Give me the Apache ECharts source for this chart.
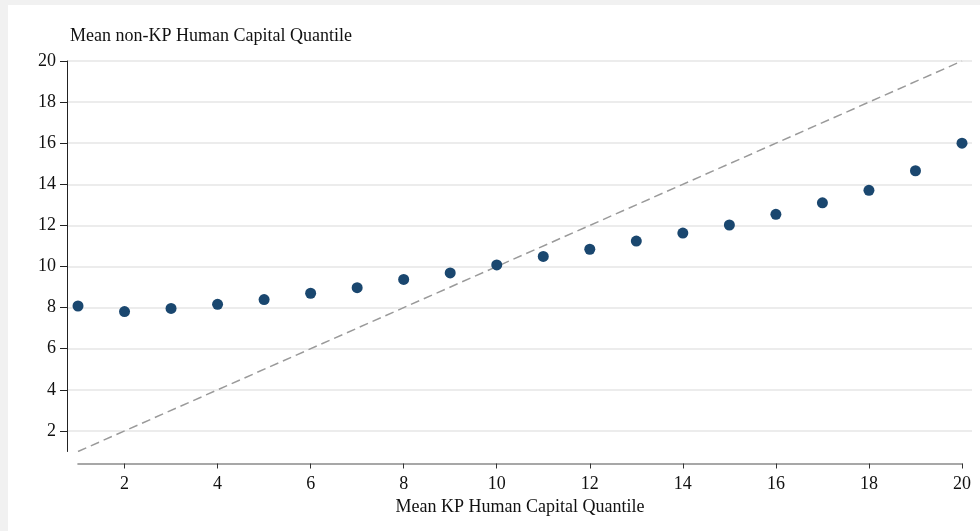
<!DOCTYPE html>
<html>
<head>
<meta charset="utf-8">
<script src="https://cdn.jsdelivr.net/npm/echarts@6/dist/echarts.min.js"></script>
<style>
  html, body { margin: 0; padding: 0; background: #f1f1f1; width: 980px; height: 531px; overflow: hidden; }
  #chart { position: absolute; left: 8px; top: 5px; width: 972px; height: 526px; background: #ffffff; }
</style>
</head>
<body>
<div id="chart"></div>
<script>
// Data
const kpQuantile = [1, 2, 3, 4, 5, 6, 7, 8, 9, 10, 11, 12, 13, 14, 15, 16, 17, 18, 19, 20];
const nonKpQuantile = [8.08, 7.81, 7.96, 8.16, 8.39, 8.70, 8.97, 9.37, 9.69, 10.08, 10.49, 10.84, 11.24, 11.63, 12.02, 12.54, 13.10, 13.71, 14.66, 16.0];
const diagonalX = [1, 20];
const diagonalY = [1, 20];
const yTicks = [2, 4, 6, 8, 10, 12, 14, 16, 18, 20];
const xTicks = [2, 4, 6, 8, 10, 12, 14, 16, 18, 20];
const titleText = 'Mean non-KP Human Capital Quantile';
const xAxisName = 'Mean KP Human Capital Quantile';

const FONT = '"Liberation Serif", "DejaVu Serif", serif';
const chart = echarts.init(document.getElementById('chart'));

const gridTop = 56, gridBottom = 79.5;

chart.setOption({
  animation: false,
  title: {
    text: titleText,
    left: 62,
    top: 22,
    padding: 0,
    textStyle: { fontFamily: FONT, fontSize: 18, fontWeight: 'normal', color: '#111' }
  },
  grid: [
    { left: 70, right: 18, top: gridTop, bottom: gridBottom, containLabel: false },
    { left: 59, right: 8, top: gridTop, bottom: gridBottom, containLabel: false }
  ],
  xAxis: [
    {
      type: 'value', gridIndex: 0, min: 1, max: 20, offset: 12,
      name: xAxisName, nameLocation: 'middle', nameGap: 30,
      nameTextStyle: { fontFamily: FONT, fontSize: 18, color: '#111' },
      axisLine: { show: true, lineStyle: { color: '#8a8a8a', width: 1.6 } },
      axisTick: { show: true, length: 5, inside: false, customValues: xTicks, lineStyle: { color: '#333', width: 1 } },
      axisLabel: { show: true, margin: 12, customValues: xTicks, fontFamily: FONT, fontSize: 18, color: '#111' },
      splitLine: { show: false }
    },
    {
      type: 'value', gridIndex: 1, min: 0, max: 1, show: false
    }
  ],
  yAxis: [
    {
      type: 'value', gridIndex: 0, min: 1, max: 20, offset: 11,
      axisLine: { show: true, lineStyle: { color: '#222', width: 1 } },
      axisTick: { show: true, length: 7, customValues: yTicks, lineStyle: { color: '#222', width: 1 } },
      axisLabel: { show: true, margin: 11, customValues: yTicks, fontFamily: FONT, fontSize: 18, color: '#111' },
      splitLine: { show: false }
    },
    {
      type: 'value', gridIndex: 1, min: 1, max: 20,
      axisLine: { show: false },
      axisTick: { show: false, customValues: yTicks },
      axisLabel: { show: false, customValues: yTicks },
      splitLine: { show: true, lineStyle: { color: '#e6e6e6', width: 1.6 } }
    }
  ],
  series: [
    {
      type: 'line', xAxisIndex: 0, yAxisIndex: 0, z: 2,
      data: diagonalX.map((x, i) => [x, diagonalY[i]]),
      symbol: 'none',
      lineStyle: { color: '#9a9a9a', width: 1.5, type: [9, 5] }
    },
    {
      type: 'scatter', xAxisIndex: 0, yAxisIndex: 0, z: 3,
      data: kpQuantile.map((x, i) => [x, nonKpQuantile[i]]),
      symbol: 'circle', symbolSize: 11,
      itemStyle: { color: '#1a476f', opacity: 1 }
    }
  ]
});
</script>
</body>
</html>
